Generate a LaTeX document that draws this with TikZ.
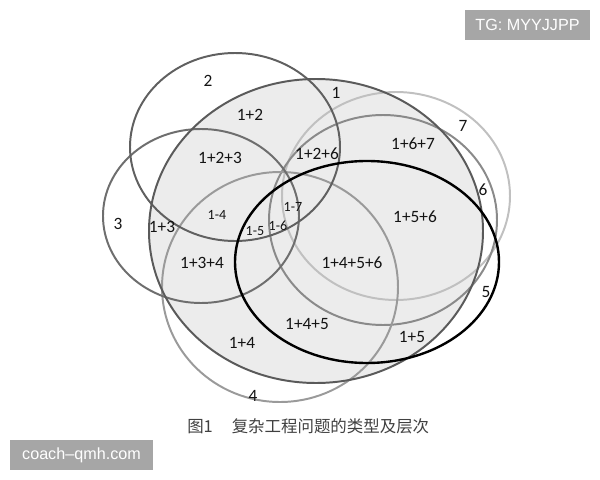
\documentclass[tikz,border=0pt]{standalone}
\usepackage{fontspec}
\setmainfont{Carlito}
\newfontfamily\cjk{Noto Sans CJK SC}
\newfontfamily\wmfont{Liberation Sans}

\definecolor{setfill}{HTML}{ECECEC}
\definecolor{ringone}{HTML}{5A5A5A}
\definecolor{ringtwo}{HTML}{606060}
\definecolor{ringthree}{HTML}{6E6E6E}
\definecolor{ringfour}{HTML}{9A9A9A}
\definecolor{ringsix}{HTML}{8A8A8A}
\definecolor{ringseven}{HTML}{C0C0C0}
\definecolor{wmgray}{HTML}{A6A6A6}

\tikzset{
  ring/.style={line width=1.4pt},
  setlbl/.style={font=\fontsize{12.3}{14}\selectfont, text=black!92, inner sep=0pt},
  sublbl/.style={font=\fontsize{10}{12}\selectfont, text=black!92, inner sep=0pt},
  wmbox/.style={fill=wmgray, text=white, inner sep=0pt, minimum height=21.3pt,
    font=\wmfont\fontsize{11.5}{13}\selectfont}
}

\begin{document}
\begin{tikzpicture}[x=0.025cm, y=-0.025cm]
      \useasboundingbox (0,0) rectangle (600,480);

      % the seven sets, set 1 shaded
      \fill[setfill] (316,231) ellipse (167 and 152);
      \draw[ring, ringseven] (396,196) ellipse (114 and 104);
      \draw[ring, ringsix] (383,220) ellipse (114 and 105);
      \draw[ring, ringfour] (280,287) ellipse (118 and 115);
      \draw[ring, ringthree] (201,216) ellipse (98 and 87);
      \draw[ring, ringtwo] (235,147) ellipse (105 and 94);
      \draw[ring, ringone] (316,231) ellipse (167 and 152);
      \draw[ring, line width=1.7pt, black] (367,262) ellipse (132 and 101);

      % set names
      \node[setlbl] (n1) at (336,93) {1};
      \node[setlbl] (n2) at (208,81) {2};
      \node[setlbl] (n3) at (118,224) {3};
      \node[setlbl] (n4) at (253,396) {4};
      \node[setlbl] (n5) at (486,292) {5};
      \node[setlbl] (n6) at (483,190) {6};
      \node[setlbl] (n7) at (463,126) {7};

      % overlaps
      \node[setlbl] (o12) at (250,115) {1+2};
      \node[setlbl] (o123) at (220,158) {1+2+3};
      \node[setlbl] (o126) at (317,154) {1+2+6};
      \node[setlbl] (o167) at (413,144) {1+6+7};
      \node[setlbl] (o156) at (415,217) {1+5+6};
      \node[setlbl] (o13) at (162,227) {1+3};
      \node[setlbl] (o134) at (202,263) {1+3+4};
      \node[setlbl] (o1456) at (352,263) {1+4+5+6};
      \node[setlbl] (o145) at (307,324) {1+4+5};
      \node[setlbl] (o14) at (242,343) {1+4};
      \node[setlbl] (o15) at (412,337) {1+5};
      \node[sublbl] (r14) at (217,215) {1-4};
      \node[sublbl] (r15) at (255,231) {1-5};
      \node[sublbl] (r16) at (278,226) {1-6};
      \node[sublbl] (r17) at (293,207) {1-7};

      % caption
      \node[anchor=west, inner sep=0pt, text=black!75, font=\cjk\fontsize{11.7}{14}\selectfont]
        (cap) at (187,426) {图1\hspace{1.15em}复杂工程问题的类型及层次};

      % marks
      \node[wmbox, minimum width=88.9pt] (tg) at (527.5,25) {TG: MYYJJPP};
      \node[wmbox, minimum width=101.7pt] (site) at (81.5,455) {coach–qmh.com};
\end{tikzpicture}
\end{document}
